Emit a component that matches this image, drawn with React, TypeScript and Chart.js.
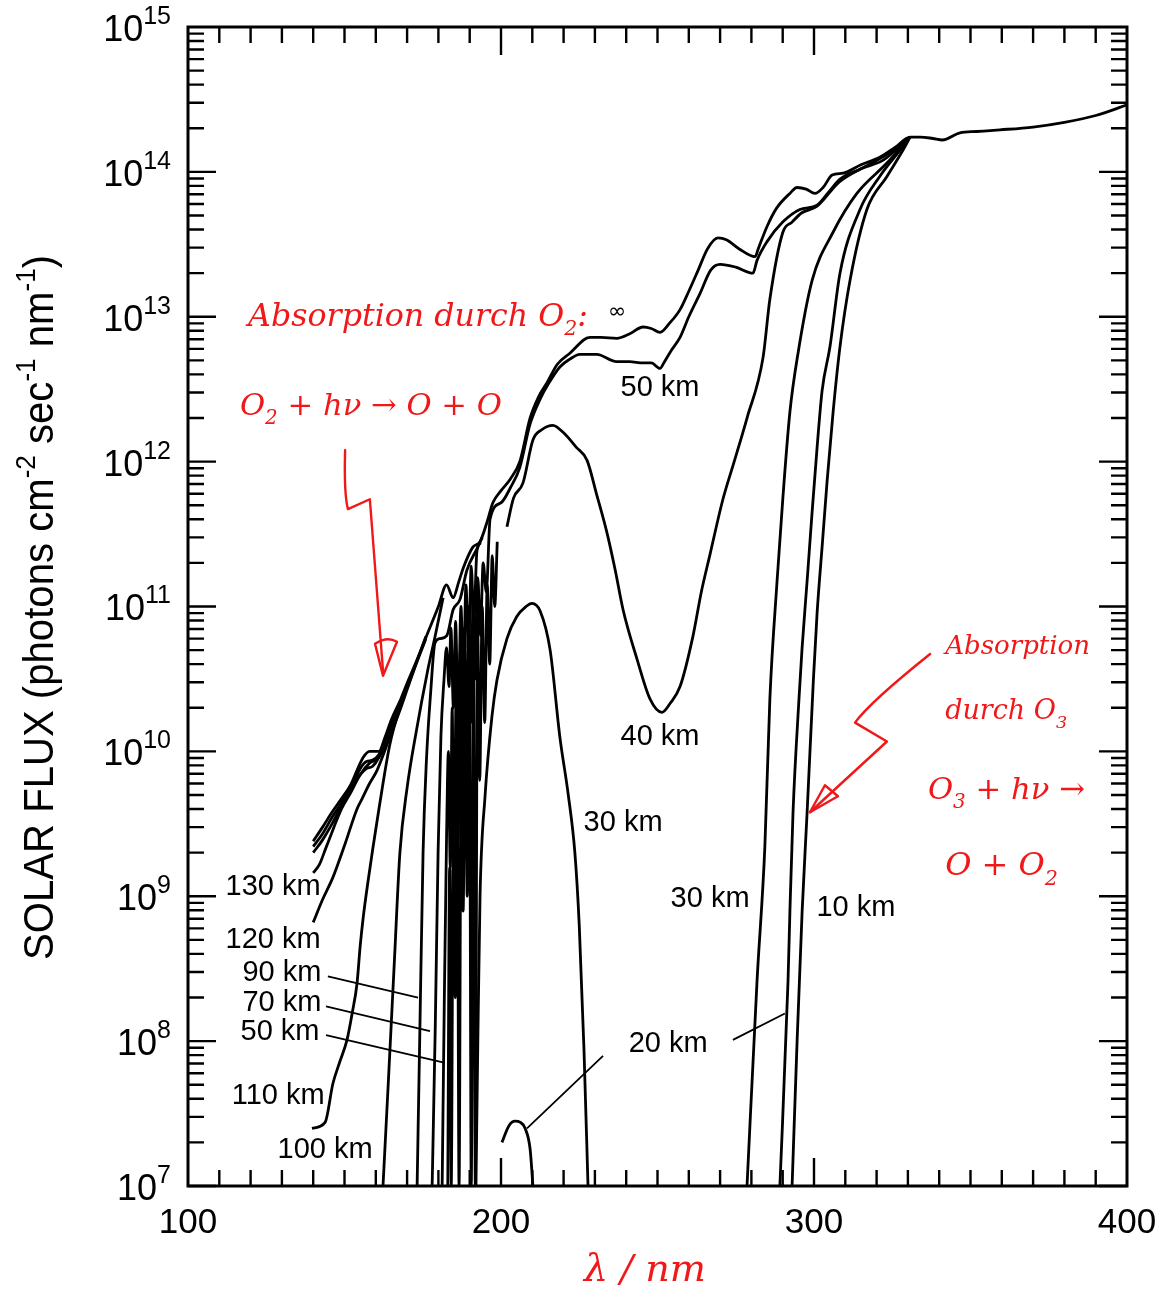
import React, { useEffect, useRef } from "react";
import { Chart, registerables } from "chart.js";

Chart.register(...registerables);

type Pt = [number, number | null];

// wavelength (nm), solar flux (photons cm^-2 s^-1 nm^-1)
const fluxInfinity: Pt[] = [
  [140, 2.4e9], [143, 3.0e9], [146, 3.8e9], [149, 4.7e9], [152, 5.9e9], [154, 7.4e9], [156, 9.1e9],
  [158, 1.0e10], [161, 1.0e10], [163, 1.26e10], [165, 1.66e10], [168, 2.3e10], [170, 2.95e10],
  [173, 4.2e10], [177, 6.9e10], [180, 1.0e11], [182.6, 1.41e11], [184.7, 1.15e11], [186.5, 1.48e11],
  [188, 1.86e11], [191, 2.57e11], [193.3, 2.8e11], [195.5, 3.8e11], [197.4, 5.2e11], [200, 6.3e11],
  [203, 7.6e11], [206, 1.0e12], [209.3, 2.0e12], [212, 2.8e12], [214.7, 3.5e12], [218, 4.7e12],
  [222, 5.6e12], [228.4, 7.2e12], [232, 7.2e12], [237, 7.1e12], [241, 7.6e12], [245.4, 8.5e12],
  [248, 8.3e12], [250.8, 7.8e12], [254, 9.1e12], [257.2, 1.12e13], [260, 1.5e13], [263, 2.1e13],
  [266, 2.95e13], [269.3, 3.5e13], [272, 3.4e13], [276, 2.95e13], [281.2, 2.6e13], [282.2, 2.95e13],
  [285, 4.2e13], [288, 5.6e13], [292.3, 7.1e13], [294.6, 7.8e13], [297.5, 7.6e13], [300.3, 7.1e13],
  [302.9, 7.8e13], [305.8, 9.5e13], [309.3, 9.8e13], [315, 1.12e14], [321, 1.26e14], [326, 1.48e14],
  [330.7, 1.74e14], [334, 1.74e14], [338, 1.7e14], [341, 1.66e14], [346.6, 1.86e14], [352, 1.9e14],
  [359.4, 1.95e14], [370, 2.04e14], [380, 2.2e14], [390, 2.45e14], [400, 2.9e14],
];

const fluxUpperA: Pt[] = [
  [140, 2.2e9], [143, 2.7e9], [146, 3.5e9], [149, 4.4e9], [152, 5.6e9], [155, 7.6e9], [157, 8.5e9],
  [159, 8.7e9], [161, 9.5e9], [163, 1.2e10], [165, 1.58e10], [168, 2.24e10],
];

const fluxUpperB: Pt[] = [
  [140, 2.0e9], [143, 2.45e9], [146, 3.16e9], [149, 4.2e9], [152, 5.4e9], [155, 6.9e9], [157, 7.6e9],
  [159, 7.9e9], [161, 9.1e9], [163, 1.15e10], [165, 1.5e10], [168, 2.2e10],
];

const flux130km: Pt[] = [
  [140, 1.45e9], [142, 1.66e9], [144, 2.14e9], [146.5, 2.95e9], [149, 4.0e9], [152, 5.2e9],
  [155, 6.9e9], [158, 8.3e9], [161, 9.1e9], [165, 1.5e10], [170, 2.8e10],
];

const flux120km: Pt[] = [
  [140, 6.6e8], [143, 9.5e8], [146.3, 1.35e9], [150, 2.24e9], [154, 4.0e9], [155.6, 4.7e9],
  [158, 6.0e9], [160.4, 7.4e9], [164.5, 1.26e10], [168, 2.0e10], [172, 3.55e10], [176, 6.0e10],
];

const flux110km: Pt[] = [
  [139.6, 2.5e7], [143.8, 2.75e7], [146.3, 5.1e7], [148.5, 7.2e7], [150.8, 1.02e8], [152.5, 1.58e8],
  [154, 2.5e8], [155, 4.5e8], [156, 7.2e8], [157.5, 1.26e9], [159, 2.1e9], [161, 4.0e9],
  [164.5, 1.12e10], [168, 2.1e10], [172, 3.6e10], [176, 6.2e10],
];

const flux100km: Pt[] = [
  [162.3, 1.0e7], [164, 5.2e7], [166, 3.8e8], [167.7, 2.0e9], [170, 5.6e9], [173, 1.4e10],
  [176.5, 3.55e10], [179, 6.3e10], [181.5, 1.15e11],
];

const flux90km: Pt[] = [
  [173.2, 1.0e7], [174.1, 1.26e8], [175.1, 2.0e9], [176.2, 8.9e9], [177.5, 2.5e10], [178.9, 5.6e10],
  [180.5, 6.0e10], [182.7, 6.3e10], [184.7, 9.5e10], [186.9, 1.12e11], [189.1, 1.78e11],
  [192.3, 2.5e11], [194, 3.0e11],
];

const flux70km: Pt[] = [
  [178, 1.0e7], [179, 1.26e8], [179.9, 2.0e9], [180.8, 1.26e10], [181.8, 3.16e10], [182.6, 5.2e10],
  [183.4, 2.8e10], [184, 7.1e10], [184.8, 2.0e10], [185.5, 7.9e10], [186.3, 1.58e10], [187.2, 1.0e11],
  [188, 3.16e10], [188.8, 1.41e11], [189.6, 5.0e10], [190.5, 1.9e11], [191.3, 7.9e10],
  [192.3, 2.4e11], [193.5, 2.75e11],
];

const flux50km: Pt[] = [
  [181.2, 1.0e7], [181.9, 2.0e8], [182.6, 2.5e9], [183.2, 1.0e10], [183.8, 1.58e9], [184.4, 2.0e10],
  [185, 1.0e9], [185.7, 3.16e10], [186.3, 2.5e9], [187, 5.0e10], [187.6, 4.0e9], [188.3, 7.1e10],
  [189, 7.9e9], [189.7, 1.0e11], [190.4, 1.58e10], [191.1, 1.26e11], [191.8, 3.16e10],
  [192.6, 1.58e11], [193.4, 6.3e10], [194.3, 2.0e11], [195.3, 1.26e11], [196.5, 4.0e11],
  [200, 5.2e11], [203, 6.6e11], [206, 9.1e11], [209.3, 1.82e12], [212.5, 2.7e12], [215, 3.4e12],
  [218.8, 4.5e12], [222, 5.1e12], [225.2, 5.5e12], [230.6, 5.5e12], [236.9, 4.9e12], [241, 4.9e12],
  [245.4, 4.8e12], [248, 4.8e12], [250.8, 4.4e12], [252, 4.8e12], [254.5, 5.9e12], [257.2, 7.2e12],
  [260, 1.0e13], [263.6, 1.45e13], [267, 2.1e13], [270, 2.3e13], [275, 2.2e13], [280.5, 2.0e13],
  [281.8, 2.45e13], [285, 3.3e13], [290, 4.5e13], [295.5, 5.5e13], [301, 5.9e13], [305, 7.4e13],
  [308.3, 8.9e13], [315, 1.05e14], [323.3, 1.32e14], [330.7, 1.74e14],
];

const flux40km: Pt[] = [
  [183, 1.0e7], [183.6, 1.58e9], [184.1, 1.0e7], [184.8, 4.0e9], [185.4, 2.0e8], [186, 7.9e9],
  [186.6, 1.0e7], [187.3, 1.26e10], [187.9, 7.9e8], [188.6, 2.24e10], [189.2, 1.0e9], [189.9, 3.16e10],
  [190.5, 1.0e7], [191.2, 5.0e10], [191.8, 1.0e7], [192.5, 7.9e10], [193.2, 6.3e9], [194, 1.0e11],
  [194.8, 1.58e10], [195.6, 1.41e11], [196.4, 4.0e10], [197.2, 2.24e11], [198, 1.0e11],
  [198.8, 2.8e11], [200, null],
  [201.9, 3.55e11], [204, 5.6e11], [207, 7.1e11], [210.2, 1.41e12], [213, 1.66e12], [216.6, 1.78e12],
  [220, 1.58e12], [224, 1.26e12], [227.5, 1.02e12], [230.5, 6.0e11], [233.9, 3.2e11], [236.5, 1.78e11],
  [239, 9.5e10], [243.5, 4.3e10], [247.6, 2.3e10], [251.4, 1.86e10], [254, 2.14e10], [257.2, 2.8e10],
  [261.3, 6.2e10], [264, 1.26e11], [266.8, 2.3e11], [270.9, 5.5e11], [274.5, 1.0e12], [278.6, 2.0e12],
  [283.7, 5.2e12], [285.9, 1.32e13], [290, 3.8e13], [293, 4.5e13], [296, 5.2e13], [301, 5.8e13],
  [308, 8.5e13], [315, 1.05e14], [322, 1.2e14], [330.7, 1.74e14],
];

const flux30kmBand: Pt[] = [
  [192, 1.0e7], [192.6, 1.0e8], [193.3, 1.0e9], [194.9, 4.9e9], [197.1, 1.74e10], [198.7, 3.1e10],
  [201.9, 6.0e10], [205, 8.5e10], [208, 1.0e11], [209.9, 1.05e11], [212.5, 9.3e10], [215.7, 5.0e10],
  [218.8, 1.26e10], [221.5, 5.0e9], [223.6, 2.0e9], [225, 6.3e8], [226.5, 8.9e7], [227.8, 1.0e7],
];

const flux30km: Pt[] = [
  [278.6, 1.0e7], [281.8, 2.6e8], [284.3, 2.2e9], [285.9, 2.3e10], [288.2, 1.5e11], [290.1, 5.8e11],
  [292.3, 2.2e12], [294.9, 5.6e12], [299.4, 1.78e13], [306, 3.8e13], [313.7, 7.1e13], [323.3, 1.15e14],
  [330.7, 1.74e14],
];

const flux20kmBump: Pt[] = [
  [200.3, 2.0e7], [202.5, 2.6e7], [204.5, 2.8e7], [206.2, 2.75e7], [207.7, 2.5e7], [209.3, 1.8e7],
  [210.2, 1.0e7],
];

const flux20km: Pt[] = [
  [289.1, 1.0e7], [291.7, 2.6e8], [292.3, 7.8e8], [293.3, 3.8e9], [295.2, 2.3e10], [296.2, 5.2e10],
  [297.8, 1.5e11], [299.4, 4.5e11], [301, 1.26e12], [302.6, 3.1e12], [305.1, 6.2e12], [308.3, 2.0e13],
  [314.7, 5.5e13], [321, 9.3e13], [327.5, 1.41e14], [330.7, 1.74e14],
];

const flux10km: Pt[] = [
  [293, 1.0e7], [294.6, 1.0e8], [296.2, 7.8e8], [297.8, 3.8e9], [299.8, 3.1e10], [301, 9.1e10],
  [302.6, 2.6e11], [304.2, 7.4e11], [306.1, 2.2e12], [308.3, 6.2e12], [311.5, 1.78e13],
  [316.9, 5.5e13], [323.3, 9.3e13], [328.4, 1.41e14], [330.7, 1.74e14],
];

const allSeries: { name: string; pts: Pt[] }[] = [
  { name: "∞", pts: fluxInfinity },
  { name: "upper a", pts: fluxUpperA },
  { name: "upper b", pts: fluxUpperB },
  { name: "130 km", pts: flux130km },
  { name: "120 km", pts: flux120km },
  { name: "110 km", pts: flux110km },
  { name: "100 km", pts: flux100km },
  { name: "90 km", pts: flux90km },
  { name: "70 km", pts: flux70km },
  { name: "50 km", pts: flux50km },
  { name: "40 km", pts: flux40km },
  { name: "30 km (band)", pts: flux30kmBand },
  { name: "30 km", pts: flux30km },
  { name: "20 km (bump)", pts: flux20kmBump },
  { name: "20 km", pts: flux20km },
  { name: "10 km", pts: flux10km },
];

const xTickLabels = [100, 200, 300, 400];
const yExponents = [7, 8, 9, 10, 11, 12, 13, 14, 15];

// curve labels (text, wavelength, flux)
const curveLabels: [string, number, number][] = [
  ["50 km", 250.8, 3.2e12],
  ["40 km", 250.8, 1.26e10],
  ["30 km", 239.0, 3.2e9],
  ["30 km", 266.8, 9.5e8],
  ["10 km", 313.4, 8.3e8],
  ["20 km", 253.4, 9.5e7],
  ["130 km", 127.2, 1.15e9],
  ["120 km", 127.2, 5.0e8],
  ["90 km", 130.0, 2.95e8],
  ["70 km", 130.0, 1.82e8],
  ["50 km", 129.4, 1.15e8],
  ["110 km", 128.8, 4.2e7],
  ["100 km", 143.8, 1.78e7],
];

const leaderLines: [number, number, number, number][] = [
  [144.7, 2.8e8, 173.5, 2.0e8],
  [144.1, 1.74e8, 177.3, 1.17e8],
  [144.1, 1.1e8, 181.8, 7.1e7],
  [232.6, 7.9e7, 208.3, 2.5e7],
  [274.1, 1.02e8, 290.7, 1.55e8],
];

const RED = "#f01818";

type Seg = { t: string; sub?: boolean; sup?: boolean };

function drawRich(ctx: CanvasRenderingContext2D, segs: Seg[], x: number, y: number, size: number, family: string, style: string) {
  let cx = x;
  ctx.textAlign = "left";
  for (const s of segs) {
    const small = s.sub || s.sup;
    const fs = small ? size * 0.65 : size;
    ctx.font = `${style} ${fs}px ${family}`;
    const dy = s.sub ? size * 0.3 : s.sup ? -size * 0.42 : 0;
    ctx.fillText(s.t, cx, y + dy);
    cx += ctx.measureText(s.t).width;
  }
  return cx - x;
}

function measureRich(ctx: CanvasRenderingContext2D, segs: Seg[], size: number, family: string, style: string) {
  let w = 0;
  for (const s of segs) {
    const fs = s.sub || s.sup ? size * 0.65 : size;
    ctx.font = `${style} ${fs}px ${family}`;
    w += ctx.measureText(s.t).width;
  }
  return w;
}

// draw rich text with its font size chosen so it spans the given width
function drawRichFit(ctx: CanvasRenderingContext2D, segs: Seg[], x: number, y: number, width: number, family: string, style: string) {
  const w = measureRich(ctx, segs, 40, family, style);
  const size = (40 * width) / w;
  drawRich(ctx, segs, x, y, size, family, style);
}

const overlayPlugin = {
  id: "overlay",
  beforeDraw(chart: any) {
    const ctx = chart.ctx as CanvasRenderingContext2D;
    ctx.save();
    ctx.fillStyle = "#fff";
    ctx.fillRect(0, 0, chart.width, chart.height);
    ctx.restore();
  },
  afterDraw(chart: any) {
    const ctx = chart.ctx as CanvasRenderingContext2D;
    const a = chart.chartArea;
    const xs = chart.scales.x;
    const ys = chart.scales.y;
    const X = (v: number) => xs.getPixelForValue(v);
    const Y = (v: number) => ys.getPixelForValue(v);
    ctx.save();
    ctx.strokeStyle = "#000";
    ctx.fillStyle = "#000";
    ctx.lineCap = "butt";

    // ticks (inward)
    ctx.lineWidth = 2.4;
    ctx.beginPath();
    for (let v = 110; v < 400; v += 10) {
      const px = X(v);
      const len = v % 100 === 0 ? 28 : 16;
      ctx.moveTo(px, a.bottom);
      ctx.lineTo(px, a.bottom - len);
      ctx.moveTo(px, a.top);
      ctx.lineTo(px, a.top + len);
    }
    for (let e = 7; e < 15; e++) {
      for (let m = 1; m <= 9; m++) {
        const py = Y(m * Math.pow(10, e));
        const len = m === 1 ? 28 : 16;
        ctx.moveTo(a.left, py);
        ctx.lineTo(a.left + len, py);
        ctx.moveTo(a.right, py);
        ctx.lineTo(a.right - len, py);
      }
    }
    ctx.stroke();

    // frame
    ctx.lineWidth = 3;
    ctx.strokeRect(a.left, a.top, a.right - a.left, a.bottom - a.top);

    // y tick labels
    ctx.textBaseline = "middle";
    ctx.textAlign = "left";
    for (const e of yExponents) {
      const py = Y(Math.pow(10, e));
      ctx.font = "25px 'Liberation Sans', Arial, sans-serif";
      const sw = ctx.measureText(String(e)).width;
      ctx.font = "36px 'Liberation Sans', Arial, sans-serif";
      const bw = ctx.measureText("10").width;
      const right = 171;
      ctx.fillText("10", right - sw - bw, py + 4);
      ctx.font = "25px 'Liberation Sans', Arial, sans-serif";
      ctx.fillText(String(e), right - sw, py - 10);
    }

    // x tick labels
    ctx.textAlign = "center";
    ctx.font = "35px 'Liberation Sans', Arial, sans-serif";
    for (const v of xTickLabels) {
      ctx.fillText(String(v), X(v), a.bottom + 37);
    }

    // y axis title
    const titleSegs: Seg[] = [
      { t: "SOLAR FLUX (photons cm" }, { t: "-2", sup: true }, { t: " sec" }, { t: "-1", sup: true },
      { t: " nm" }, { t: "-1", sup: true }, { t: ")" },
    ];
    const fam = "'Liberation Sans', Arial, sans-serif";
    const tSize = 43;
    const tw = measureRich(ctx, titleSegs, tSize, fam, "");
    const target = 705;
    ctx.save();
    ctx.translate(53, 960);
    ctx.rotate(-Math.PI / 2);
    ctx.scale(target / tw, 1);
    ctx.textBaseline = "alphabetic";
    drawRich(ctx, titleSegs, 0, 0, tSize, fam, "");
    ctx.restore();

    // curve labels
    ctx.textAlign = "center";
    ctx.textBaseline = "middle";
    ctx.font = "29px 'Liberation Sans', Arial, sans-serif";
    for (const [t, nm, f] of curveLabels) {
      ctx.fillText(t, X(nm), Y(f));
    }
    ctx.font = "22px 'DejaVu Sans', sans-serif";
    ctx.fillText("∞", X(237.1), Y(1.07e13));

    // leader lines
    ctx.lineWidth = 1.8;
    ctx.beginPath();
    for (const [x1, y1, x2, y2] of leaderLines) {
      ctx.moveTo(X(x1), Y(y1));
      ctx.lineTo(X(x2), Y(y2));
    }
    ctx.stroke();

    // red handwritten annotations
    ctx.fillStyle = RED;
    ctx.strokeStyle = RED;
    ctx.textBaseline = "alphabetic";
    const hand = "'DejaVu Serif', 'Liberation Serif', serif";
    drawRichFit(ctx, [{ t: "Absorption durch O" }, { t: "2", sub: true }, { t: ":" }], X(119.2), Y(8.7e12), 340, hand, "italic");
    drawRichFit(ctx, [{ t: "O" }, { t: "2", sub: true }, { t: " + hν → O + O" }], X(116.6), Y(2.1e12), 262, hand, "italic");
    drawRichFit(ctx, [{ t: "Absorption" }], X(341.9), Y(4.7e10), 145, hand, "italic");
    drawRichFit(ctx, [{ t: "durch O" }, { t: "3", sub: true }], X(341.9), Y(1.66e10), 122, hand, "italic");
    drawRichFit(ctx, [{ t: "O" }, { t: "3", sub: true }, { t: " + hν →" }], X(336.4), Y(4.7e9), 157, hand, "italic");
    drawRich(ctx, [{ t: "O + O" }, { t: "2", sub: true }], X(341.9), Y(1.4e9), 32, hand, "italic");
    drawRichFit(ctx, [{ t: "λ / nm" }], X(226.5), Y(2.2e6), 122, hand, "italic");

    // red arrows
    ctx.lineWidth = 2.4;
    ctx.lineJoin = "round";
    ctx.lineCap = "round";
    ctx.beginPath();
    ctx.moveTo(X(150.2), Y(1.2e12));
    ctx.quadraticCurveTo(X(149.8), Y(6.0e11), X(151.1), Y(4.7e11));
    ctx.lineTo(X(158.1), Y(5.5e11));
    ctx.lineTo(X(162.3), Y(3.6e10));
    ctx.stroke();
    let tx = X(162.3), ty = Y(3.6e10) + 5;
    ctx.beginPath();
    ctx.moveTo(tx, ty);
    ctx.lineTo(tx - 8, ty - 32);
    ctx.quadraticCurveTo(tx + 4, ty - 40, tx + 14, ty - 34);
    ctx.closePath();
    ctx.stroke();

    ctx.beginPath();
    ctx.moveTo(X(337.1), Y(4.7e10));
    ctx.quadraticCurveTo(X(318), Y(2.2e10), X(313.1), Y(1.58e10));
    ctx.lineTo(X(323.3), Y(1.17e10));
    ctx.lineTo(X(298.7), Y(3.8e9));
    ctx.stroke();
    tx = X(298.7);
    ty = Y(3.8e9);
    ctx.beginPath();
    ctx.moveTo(tx, ty);
    ctx.lineTo(tx + 15, ty - 27);
    ctx.lineTo(tx + 28, ty - 16);
    ctx.closePath();
    ctx.stroke();

    ctx.restore();
  },
};

export default function App() {
  const canvasRef = useRef<HTMLCanvasElement | null>(null);

  useEffect(() => {
    if (!canvasRef.current) return;
    const datasets = allSeries.map((s) => ({
      label: s.name,
      data: s.pts.map(([x, y]) => ({ x, y })),
      borderColor: "#000",
      borderWidth: 2.8,
      pointRadius: 0,
      fill: false,
      spanGaps: false,
      cubicInterpolationMode: "monotone" as const,
    }));
    const chart = new Chart(canvasRef.current, {
      type: "line",
      data: { datasets },
      options: {
        responsive: false,
        maintainAspectRatio: false,
        animation: false,
        devicePixelRatio: 1,
        layout: { padding: { left: 188, right: 33, top: 27, bottom: 115 } },
        plugins: { legend: { display: false }, tooltip: { enabled: false } },
        scales: {
          x: { type: "linear", min: 100, max: 400, display: false },
          y: { type: "logarithmic", min: 1e7, max: 1e15, display: false },
        },
      },
      plugins: [overlayPlugin],
    });
    return () => chart.destroy();
  }, []);

  return (
    <div style={{ position: "absolute", left: 0, top: 0, width: 1160, height: 1301, background: "#fff" }}>
      <canvas ref={canvasRef} width={1160} height={1301} style={{ display: "block" }} />
    </div>
  );
}
